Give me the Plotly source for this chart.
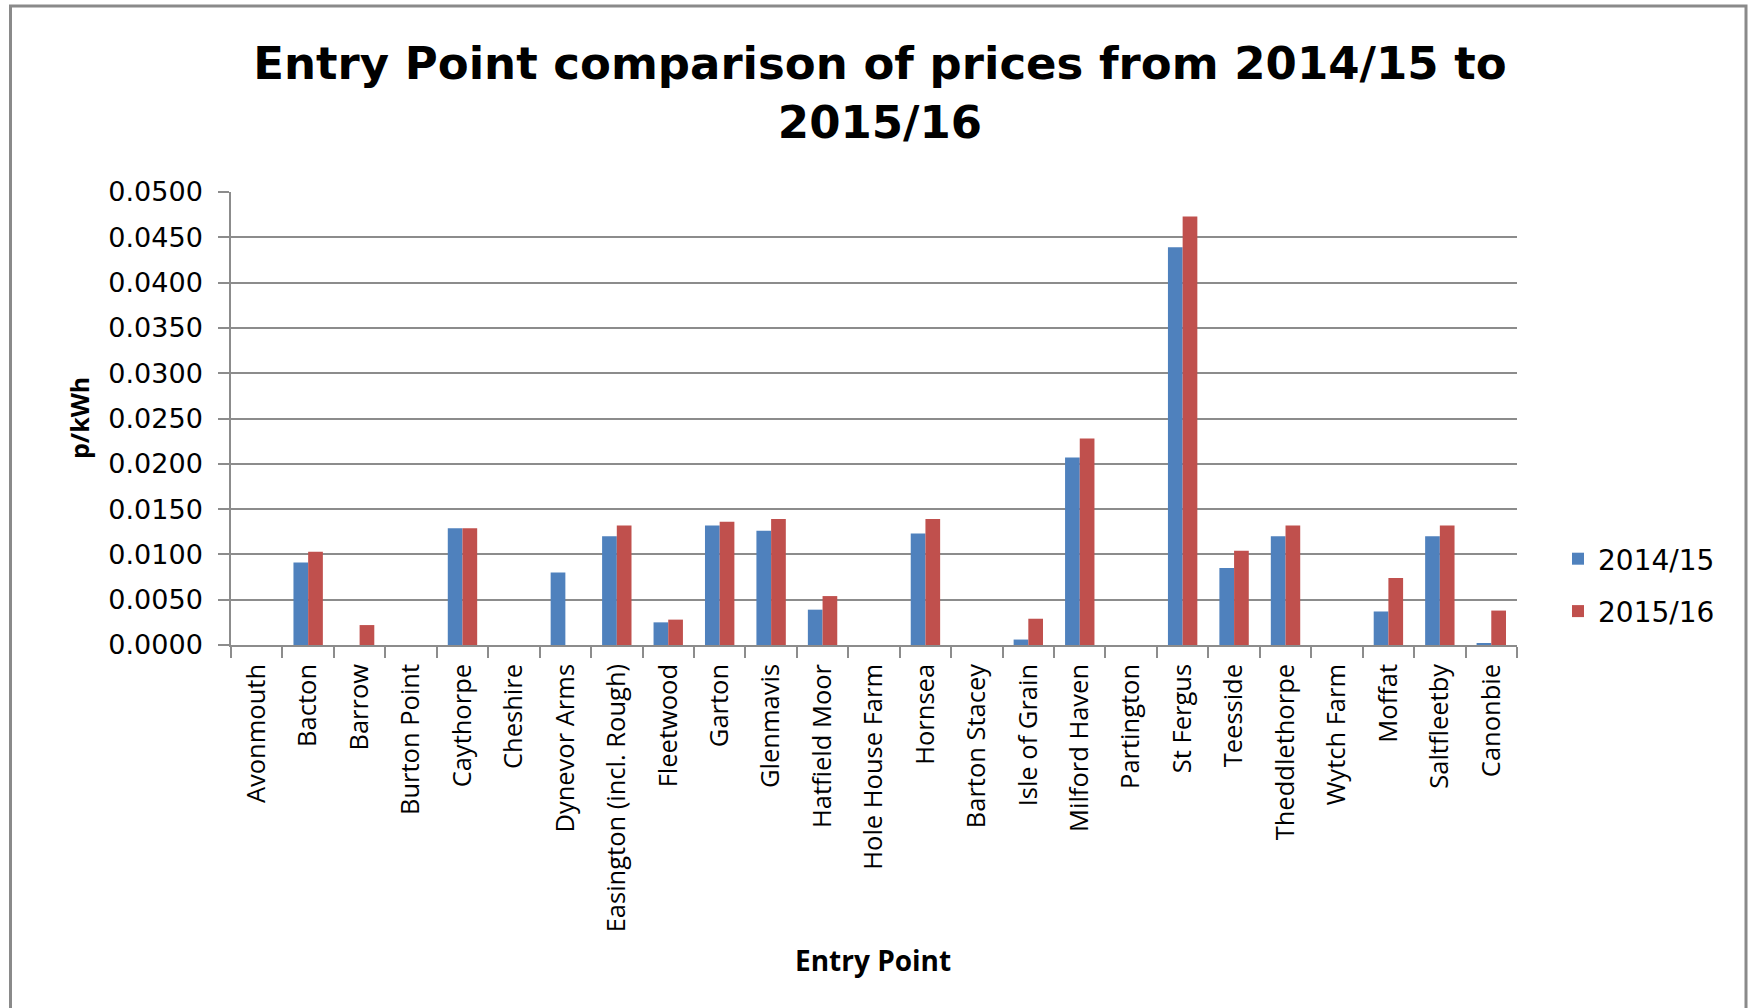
import plotly.graph_objects as go

# Entry points and unit prices (p/kWh) for the two charging years
entry_points = [
    "Avonmouth", "Bacton", "Barrow", "Burton Point", "Caythorpe", "Cheshire",
    "Dynevor Arms", "Easington (incl. Rough)", "Fleetwood", "Garton", "Glenmavis",
    "Hatfield Moor", "Hole House Farm", "Hornsea", "Barton Stacey", "Isle of Grain",
    "Milford Haven", "Partington", "St Fergus", "Teesside", "Theddlethorpe",
    "Wytch Farm", "Moffat", "Saltfleetby", "Canonbie",
]
prices_2014_15 = [
    0.0, 0.0091, 0.0, 0.0, 0.0129, 0.0,
    0.0080, 0.0120, 0.0025, 0.0132, 0.0126,
    0.0039, 0.0, 0.0123, 0.0, 0.0006,
    0.0207, 0.0, 0.0439, 0.0085, 0.0120,
    0.0, 0.0037, 0.0120, 0.0002,
]
prices_2015_16 = [
    0.0, 0.0103, 0.0022, 0.0, 0.0129, 0.0,
    0.0, 0.0132, 0.0028, 0.0136, 0.0139,
    0.0054, 0.0, 0.0139, 0.0, 0.0029,
    0.0228, 0.0, 0.0473, 0.0104, 0.0132,
    0.0, 0.0074, 0.0132, 0.0038,
]
series_names = ["2014/15", "2015/16"]
y_ticks = [i * 0.005 for i in range(11)]

W, H = 1748, 1008
L, R, T, B = 231, 231, 192, 363
PW, PH = W - L - R, H - T - B

def px_x(x):
    return (x - L) / PW

def px_y(y):
    return (H - B - y) / PH

GRID = "#8c8c8c"
BLUE = "#4F81BD"
RED = "#C0504D"

fig = go.Figure()
fig.add_trace(go.Bar(x=entry_points, y=prices_2014_15, name=series_names[0],
                     marker=dict(color=BLUE, line=dict(width=0)), legendgroup="a"))
fig.add_trace(go.Bar(x=entry_points, y=prices_2015_16, name=series_names[1],
                     marker=dict(color=RED, line=dict(width=0)), legendgroup="b"))

fig.update_layout(
    width=W, height=H, autosize=False,
    margin=dict(l=L, r=R, t=T, b=B, pad=0),
    paper_bgcolor="white", plot_bgcolor="white",
    barmode="group", bargap=0.4286, bargroupgap=0,
    title=dict(
        text="Entry Point comparison of prices from 2014/15 to<br>2015/16",
        font=dict(family="DejaVu Sans", size=45, color="black", weight="bold"),
        x=880 / W, xanchor="center", xref="container",
        y=1 - 79 / H, yanchor="middle", yref="container",
    ),
    legend=dict(
        x=px_x(1558), xanchor="left", y=px_y(534), yanchor="top",
        font=dict(family="DejaVu Sans", size=28, color="black"),
        tracegroupgap=13, bgcolor="rgba(0,0,0,0)",
    ),
    showlegend=True,
)

fig.update_xaxes(
    type="category", showline=True, linecolor=GRID, linewidth=1.5,
    ticks="outside", tickson="boundaries", ticklen=11, tickcolor=GRID, tickwidth=1.5,
    tickangle=-90, tickfont=dict(family="Open Sans", size=25.5, color="black"),
    ticklabelstandoff=7, showgrid=False,
)
fig.update_yaxes(
    range=[0, 0.05], tickvals=y_ticks, tickformat=".4f",
    showline=True, linecolor=GRID, linewidth=1.5,
    ticks="outside", ticklen=11, tickcolor=GRID, tickwidth=1.5,
    showgrid=True, gridcolor=GRID, gridwidth=1.5, zeroline=False,
    tickfont=dict(family="DejaVu Sans", size=27, color="black"),
    ticklabelstandoff=10,
)

# Axis titles
fig.add_annotation(text="p/kWh", textangle=-90, xref="paper", yref="paper",
                   x=px_x(79), y=px_y(418), xanchor="center", yanchor="middle",
                   showarrow=False,
                   font=dict(family="Open Sans", size=25, color="black", weight="bold"))
fig.add_annotation(text="Entry Point", xref="paper", yref="paper",
                   x=px_x(873), y=px_y(960), xanchor="center", yanchor="middle",
                   showarrow=False,
                   font=dict(family="Open Sans", size=28, color="black", weight="bold"))

# Chart frame
fig.add_shape(type="rect", xref="paper", yref="paper",
              x0=px_x(10.5), x1=px_x(1746), y0=px_y(1015), y1=px_y(6),
              line=dict(color="#8a8a8a", width=3), fillcolor="rgba(0,0,0,0)", layer="below")

fig.write_html("out.html")
